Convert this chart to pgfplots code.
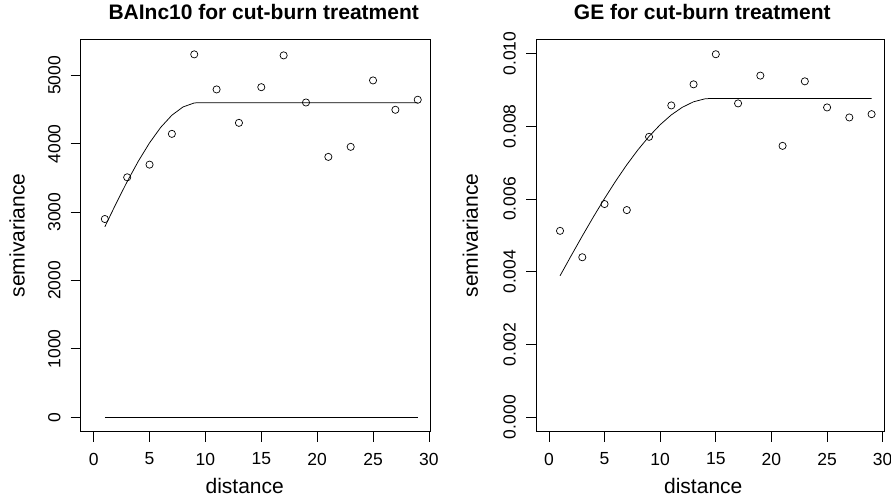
\documentclass[border=0pt]{standalone}
\usepackage{fontspec}
\setmainfont{Liberation Sans}
\usepackage{pgfplots}
\pgfplotsset{compat=1.18}

% shared look of both variogram panels (R base graphics style)
\pgfplotsset{
  rpanel/.style={
    scale only axis,
    anchor=south west,
    height=392.7pt,
    xmin=-1.16, xmax=30.16,
    xtick={0,5,10,15,20,25,30},
    xtick pos=bottom, ytick pos=left,
    tick align=outside,
    major tick length=10pt,
    axis line style={line width=0.8pt},
    every tick/.style={line width=0.8pt, black},
    /pgf/number format/assume math mode=true,
    /pgf/number format/1000 sep={},
    tick label style={font=\fontsize{17.5}{20}\selectfont, inner sep=0pt},
    xticklabel style={anchor=north},
    yticklabel style={rotate=90, anchor=south},
    xticklabel shift=11pt,
    yticklabel shift=10pt,
    title style={at={(axis description cs:0.5,1)}, anchor=base, yshift=13pt,
      inner sep=0pt, font=\bfseries\fontsize{21}{24}\selectfont},
    xlabel style={at={(axis description cs:0.5,0)}, anchor=base, yshift=-61.5pt,
      inner sep=0pt, font=\fontsize{21}{24}\selectfont},
    ylabel style={anchor=south, inner sep=0pt, font=\fontsize{21}{24}\selectfont},
    xlabel={distance},
    ylabel={semivariance},
    scaled y ticks=false,
  },
  pts/.style={only marks, mark=o, mark size=3.6pt, mark options={line width=0.7pt, black}},
  model/.style={no marks, black, line width=0.75pt},
}

\begin{document}
\begin{tikzpicture}
\useasboundingbox (0,0) rectangle (891pt,498pt);

% ---- left panel: BAInc10
\begin{axis}[rpanel,
    at={(80.7pt,66.3pt)}, width=350pt,
    ymin=-212.8, ymax=5532.8,
    ytick={0,1000,2000,3000,4000,5000},
    title={BAInc10 for cut-burn treatment},
    title style={xshift=8pt},
    xlabel style={xshift=-11pt},
    ylabel style={at={(axis description cs:-0.159,0.5)}},
]
\addplot[pts] coordinates {
  (1,2899) (3,3509) (5,3695) (7,4145) (9,5308) (11,4795) (13,4306) (15,4828)
  (17,5293) (19,4604) (21,3808) (23,3955) (25,4927) (27,4497) (29,4644)
};
\addplot[model] coordinates {
  (1,2785) (2,3124) (3,3447) (4,3746) (5,4013) (6,4240) (7,4418) (8,4539)
  (9,4597) (9.3,4600) (29,4600)
};
\addplot[model] coordinates {(1,0) (29,0)};
\end{axis}

% ---- right panel: GE
\begin{axis}[rpanel,
    at={(536pt,66.3pt)}, width=348.5pt,
    ymin=-0.0004, ymax=0.0104,
    ytick={0,0.002,0.004,0.006,0.008,0.010},
    yticklabel style={/pgf/number format/.cd, fixed, fixed zerofill, precision=3},
    title={GE for cut-burn treatment},
    title style={xshift=-8pt},
    xlabel style={xshift=-7pt},
    ylabel style={at={(axis description cs:-0.1656,0.5)}},
]
\addplot[pts] coordinates {
  (1,0.005124) (3,0.004398) (5,0.005861) (7,0.005695) (9,0.007710)
  (11,0.008573) (13,0.009153) (15,0.009981) (17,0.008629) (19,0.009393)
  (21,0.007461) (23,0.009236) (25,0.008518) (27,0.008242) (29,0.008333)
};
\addplot[model] coordinates {
  (1,0.003888) (2,0.004440) (3,0.004982) (4,0.005509) (5,0.006014)
  (6,0.006493) (7,0.006941) (8,0.007352) (9,0.007721) (10,0.008043)
  (11,0.008313) (12,0.008524) (13,0.008673) (14,0.008753) (14.6,0.008767)
  (29,0.008767)
};
\end{axis}
\end{tikzpicture}
\end{document}
